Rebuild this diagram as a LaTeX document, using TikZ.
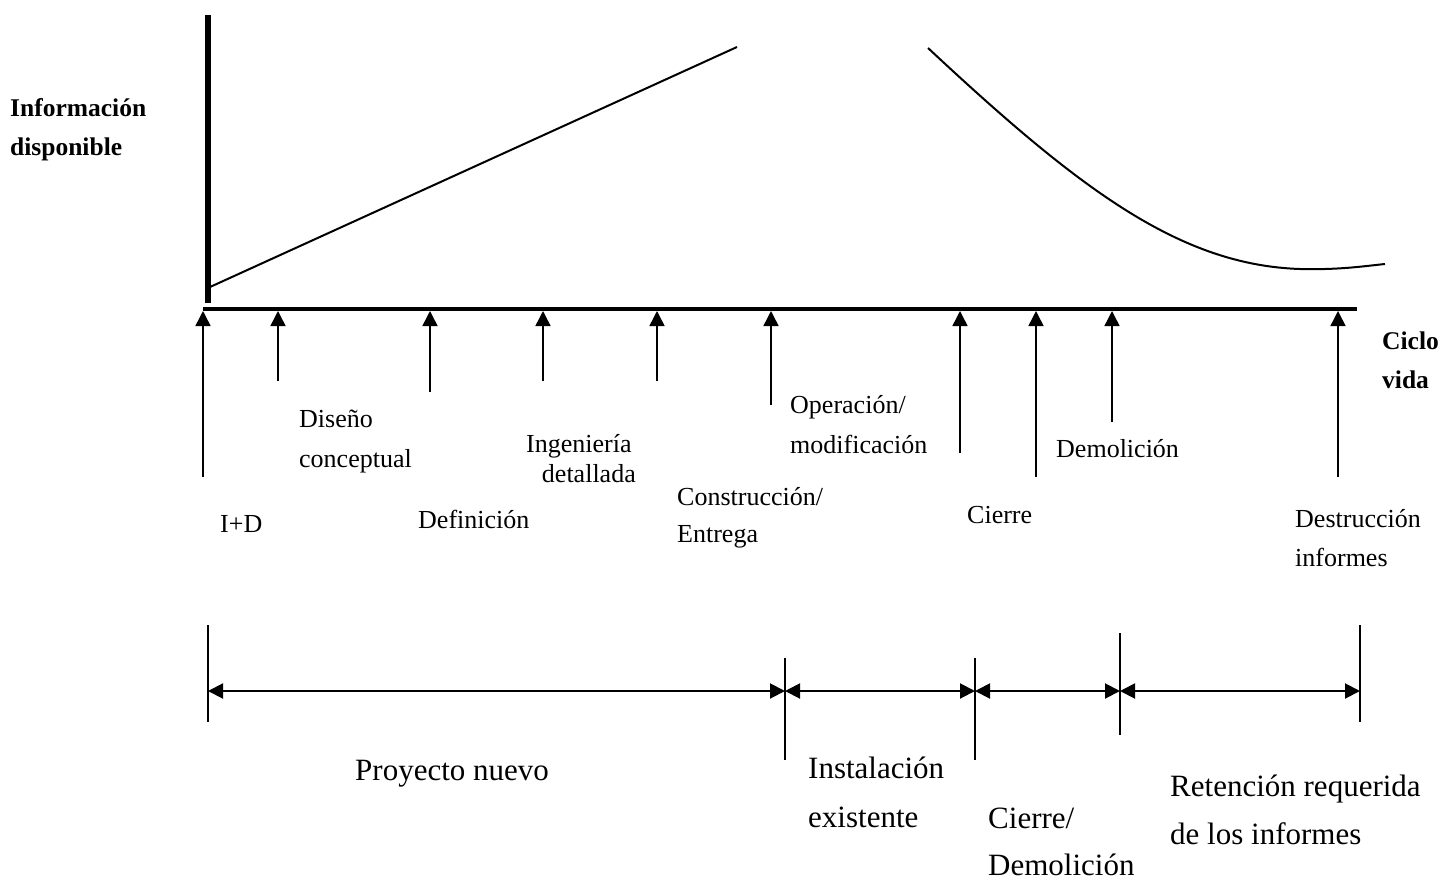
\documentclass[tikz,border=0pt]{standalone}
\usepackage{fontspec}
\setmainfont{Liberation Serif}
\usetikzlibrary{arrows.meta}
\begin{document}
\begin{tikzpicture}[x=1pt,y=-1pt,
  lbl/.style={anchor=base west, inner sep=0pt, font=\fontsize{26}{30}\selectfont},
  lblr/.style={lbl, anchor=base east},
  lblb/.style={lbl, font=\fontsize{25.5}{30}\selectfont\bfseries},
  big/.style={anchor=base west, inner sep=0pt, font=\fontsize{31}{36}\selectfont},
  uparrow/.style={-{Triangle[length=15pt,width=15pt]}, line width=1.5pt},
  span/.style={{Triangle[length=15pt,width=15pt]}-{Triangle[length=15pt,width=15pt]}, line width=2pt},
  tick/.style={line width=1.5pt},
  curve/.style={line width=2pt}]
\useasboundingbox (0,0) rectangle (1440,879);

% axes
\coordinate (yTop) at (208,15);
\coordinate (yBot) at (208,303);
\coordinate (xL) at (203,309);
\coordinate (xR) at (1357,309);
\draw[line width=6pt] (yBot) -- (yTop);
\draw[line width=4pt] (xL) -- (xR);

% information curves
\coordinate (r0) at (210,287);
\coordinate (r1) at (737,47);
\draw[curve] (r0) -- (r1);
\coordinate (f0) at (928,48);
\coordinate (f1) at (1300,269);
\coordinate (f2) at (1385,264);
\draw[curve] (f0) .. controls (1080,190) and (1180,265) .. (f1)
             .. controls (1340,270) and (1365,266) .. (f2);

% milestone arrows up to the time axis
\foreach \n/\x/\b in {a1/203/477, a2/278/381, a3/430/392, a4/543/381, a5/657/381,
                      a6/771/405, a7/960/453, a8/1036/477, a9/1112/422, a10/1338/477}{
  \coordinate (\n b) at (\x,\b);
  \coordinate (\n t) at (\x,311);
  \draw[uparrow] (\n b) -- (\n t);
}

% axis labels
\node[lblb] (info1) at (10,116) {Información};
\node[lblb] (info2) at (10,155) {disponible};
\node[lblb] (ciclo1) at (1382,349) {Ciclo};
\node[lblb] (ciclo2) at (1382,388) {vida};

% milestone labels
\node[lbl] (dis1) at (299,427) {Diseño};
\node[lbl] (dis2) at (299,467) {conceptual};
\node[lbl] (iyd) at (220,532) {I+D};
\node[lbl] (def) at (418,528) {Definición};
\node[lbl] (ing1) at (526,452) {Ingeniería};
\node[lblr] (ing2) at (636,482) {detallada};
\node[lbl] (con1) at (677,505) {Construcción/};
\node[lbl] (con2) at (677,542) {Entrega};
\node[lbl] (ope1) at (790,413) {Operación/};
\node[lbl] (ope2) at (790,453) {modificación};
\node[lbl] (cie) at (967,523) {Cierre};
\node[lbl] (dem) at (1056,457) {Demolición};
\node[lbl] (des1) at (1295,527) {Destrucción};
\node[lbl] (des2) at (1295,566) {informes};

% phase boundaries
\foreach \n/\x/\t/\b in {t1/208/625/722, t2/785/658/760, t3/975/658/760,
                         t4/1120/633/735, t5/1360/625/722}{
  \coordinate (\n top) at (\x,\t);
  \coordinate (\n bot) at (\x,\b);
  \coordinate (\n) at (\x,691);
  \draw[tick] (\n top) -- (\n bot);
}
\draw[span] (t1) -- (t2);
\draw[span] (t2) -- (t3);
\draw[span] (t3) -- (t4);
\draw[span] (t4) -- (t5);

% phase labels
\node[big] (proy) at (355,780) {Proyecto nuevo};
\node[big] (ins1) at (808,778) {Instalación};
\node[big] (ins2) at (808,827) {existente};
\node[big] (cd1) at (988,828) {Cierre/};
\node[big] (cd2) at (988,875) {Demolición};
\node[big] (ret1) at (1170,796) {Retención requerida};
\node[big] (ret2) at (1170,844) {de los informes};
\end{tikzpicture}
\end{document}
